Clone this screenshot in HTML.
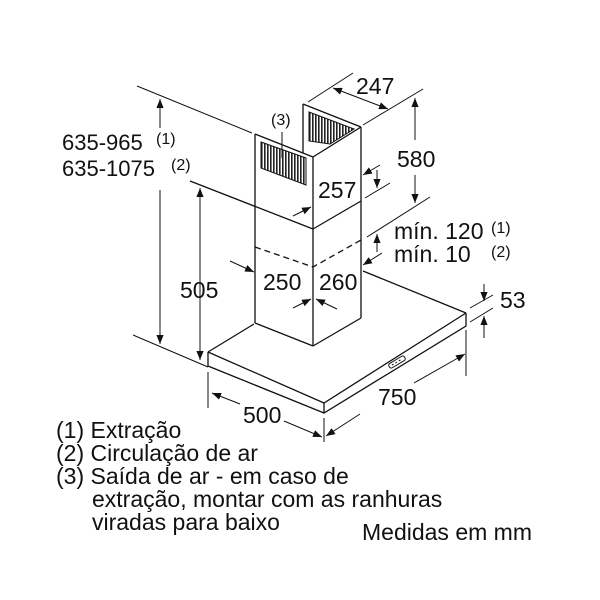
<!DOCTYPE html>
<html><head><meta charset="utf-8"><style>
body{margin:0;background:#fff}
svg{display:block}
text{font-family:"Liberation Sans",Arial,sans-serif;fill:#111}
</style></head><body>
<svg width="600" height="600" viewBox="0 0 600 600" xmlns="http://www.w3.org/2000/svg">
<defs>
<marker id="a" viewBox="0 0 10 10" refX="10" refY="5" markerWidth="9" markerHeight="9" orient="auto-start-reverse" markerUnits="userSpaceOnUse"><path d="M0,1 L10,5 L0,9 z" fill="#111"/></marker>
<pattern id="st" width="3" height="10" patternUnits="userSpaceOnUse"><rect width="1.6" height="10" fill="#222"/></pattern>
</defs>
<g stroke="#111" stroke-width="1.3" fill="none">
<line x1="255" y1="134" x2="255" y2="323"/>
<line x1="313" y1="157" x2="313" y2="346"/>
<line x1="361" y1="127" x2="361" y2="318"/>
<line x1="255" y1="134" x2="313" y2="157"/>
<line x1="313" y1="157" x2="361" y2="127"/>
<line x1="303" y1="104" x2="303" y2="153"/>
<line x1="303" y1="104" x2="361" y2="127"/>
<line x1="190" y1="181" x2="313" y2="229"/>
<line x1="313" y1="229" x2="361" y2="201"/>
<line x1="255" y1="323" x2="313" y2="346"/>
<line x1="313" y1="346" x2="361" y2="318"/>
<polyline points="255,247 313,267 361,240" stroke-dasharray="6,4"/>
<line x1="254" y1="324" x2="208" y2="352"/>
<line x1="363" y1="271" x2="466" y2="313"/>
<polyline points="208,352 324,403 466,313"/>
<polyline points="208,352 208,366 324,413 466,326 466,313"/>
<line x1="324" y1="403" x2="324" y2="413"/>
<line x1="137" y1="86" x2="252" y2="133" stroke-width="1"/>
<line x1="133" y1="335" x2="208" y2="367" stroke-width="1"/>
<line x1="208" y1="372" x2="208" y2="408" stroke-width="1"/>
<line x1="324" y1="418" x2="324" y2="442" stroke-width="1"/>
<line x1="466" y1="330" x2="466" y2="376" stroke-width="1"/>
<line x1="308" y1="102" x2="353" y2="73" stroke-width="1"/>
<line x1="363" y1="125" x2="423" y2="89" stroke-width="1"/>
<line x1="365" y1="198" x2="390" y2="183" stroke-width="1"/>
<line x1="367" y1="237" x2="430" y2="197" stroke-width="1"/>
<line x1="470" y1="308" x2="493" y2="295" stroke-width="1"/>
<line x1="470" y1="322" x2="493" y2="308" stroke-width="1"/>
<line x1="282" y1="132" x2="282" y2="158" stroke-width="1"/>
<g stroke-width="1">
<line x1="160" y1="128" x2="160" y2="99" marker-end="url(#a)"/>
<line x1="160" y1="190" x2="160" y2="344" marker-end="url(#a)"/>
<line x1="200" y1="188" x2="200" y2="360" marker-start="url(#a)" marker-end="url(#a)"/>
<line x1="333" y1="88" x2="388" y2="109" marker-start="url(#a)" marker-end="url(#a)"/>
<line x1="415" y1="98" x2="415" y2="140" marker-start="url(#a)"/>
<line x1="415" y1="175" x2="415" y2="203" marker-end="url(#a)"/>
<line x1="377" y1="170" x2="377" y2="188" marker-end="url(#a)"/>
<line x1="380" y1="165" x2="363" y2="175" marker-end="url(#a)"/>
<line x1="377" y1="252" x2="377" y2="234" marker-end="url(#a)"/>
<line x1="382" y1="253" x2="363" y2="265" marker-end="url(#a)"/>
<line x1="293" y1="216" x2="311" y2="207" marker-end="url(#a)"/>
<line x1="230" y1="261" x2="254" y2="272" marker-end="url(#a)"/>
<line x1="293" y1="308" x2="311" y2="299" marker-end="url(#a)"/>
<line x1="337" y1="309" x2="316" y2="299" marker-end="url(#a)"/>
<line x1="484" y1="284" x2="484" y2="301" marker-end="url(#a)"/>
<line x1="484" y1="338" x2="484" y2="316" marker-end="url(#a)"/>
<line x1="240" y1="404" x2="212" y2="393" marker-end="url(#a)"/>
<line x1="284" y1="421" x2="322" y2="437" marker-end="url(#a)"/>
<line x1="414" y1="383" x2="465" y2="354" marker-end="url(#a)"/>
<line x1="360" y1="414" x2="326" y2="436" marker-end="url(#a)"/>
</g>
</g>
<polygon points="261,142 306,158 306,185 261,168" fill="url(#st)" stroke="#111" stroke-width="1"/>
<polygon points="309,112 354,129 330,144 309,141" fill="url(#st)" stroke="#111" stroke-width="1"/>
<g transform="translate(397,362) rotate(-31)"><rect x="-9" y="-2.5" width="18" height="5" rx="2" fill="none" stroke="#111" stroke-width="1"/><line x1="-6" y1="0" x2="6" y2="0" stroke="#111" stroke-dasharray="2,2"/></g>
<g font-size="22">
<text x="62" y="150">635-965</text><text x="156" y="144" font-size="16">(1)</text>
<text x="62" y="176">635-1075</text><text x="171" y="170" font-size="16">(2)</text>
</g>
<g font-size="23">
<text x="356" y="94">247</text>
<text x="397" y="167">580</text>
<text x="318" y="198">257</text>
<text x="180" y="298">505</text>
<text x="263" y="290">250</text>
<text x="319" y="290">260</text>
<text x="500" y="308">53</text>
<text x="243" y="423">500</text>
<text x="378" y="405">750</text>
<text x="394" y="239">mín. 120</text><text x="491" y="233" font-size="16">(1)</text>
<text x="394" y="262">mín. 10</text><text x="491" y="257" font-size="16">(2)</text>
<text x="56" y="438">(1) Extração</text>
<text x="56" y="461">(2) Circulação de ar</text>
<text x="56" y="484">(3) Saída de ar - em caso de</text>
<text x="92" y="507">extração, montar com as ranhuras</text>
<text x="92" y="530">viradas para baixo</text>
<text x="362" y="540">Medidas em mm</text>
</g>
<text x="271" y="125" font-size="16">(3)</text>
</svg>
</body></html>
